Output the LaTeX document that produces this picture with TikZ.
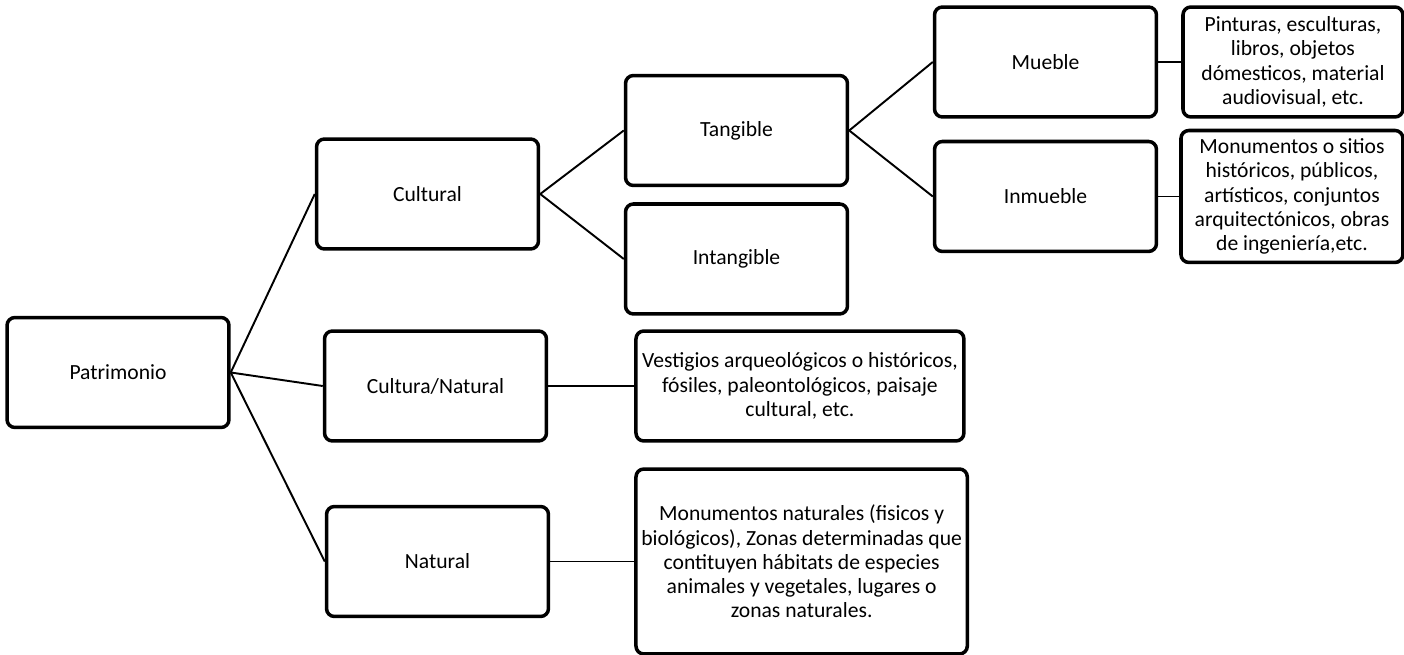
\documentclass[tikz,border=0pt]{standalone}
\usepackage{fontspec}
\setmainfont{Carlito}
\usepackage{tikz}
\usetikzlibrary{positioning}

\begin{document}
\begin{tikzpicture}[
  x = 0.02cm, y = -0.02cm,
  node distance = 0.5cm and 0.45cm,
  box/.style  = {rectangle, draw, rounded corners=4.5pt, line width=2pt,
                 align=center, inner sep=3pt,
                 minimum width=4.44cm, minimum height=2.2cm,
                 font=\fontsize{12.3}{13.8}\selectfont},
  desc/.style = {box, minimum width=6.56cm},
  link/.style = {line width=1.1pt}
]
\useasboundingbox (0,0) rectangle (1404,655);

% root
\node[box] (patr) at (118,372.5) {Patrimonio};

% first level
\node[box] (cult)   at (427.5,194)   {Cultural};
\node[box] (culnat) at (435.5,386)   {Cultura/Natural};
\node[box] (nat)    at (437.5,561.5) {Natural};

% cultural branch
\node[box] (tang) at (736.5,130.5) {Tangible};
\node[box, below=0.3cm of tang] (intang) {Intangible};

\node[box] (mueb) at (1045.5,62) {Mueble};
\node[box, below=0.42cm of mueb] (inmueb) {Inmueble};

% descriptions
\node[box, minimum width=4.4cm, right=0.46cm of mueb] (muebdesc)
  {Pinturas, esculturas,\\libros, objetos\\dómesticos, material\\audiovisual, etc.};
\node[box, minimum height=2.64cm, right=0.42cm of inmueb] (inmuebdesc)
  {Monumentos o sitios\\históricos, públicos,\\artísticos, conjuntos\\arquitectónicos, obras\\de ingeniería,etc.};
\node[desc, right=1.72cm of culnat] (culnatdesc)
  {Vestigios arqueológicos o históricos,\\fósiles, paleontológicos, paisaje\\cultural, etc.};
\node[desc, minimum width=6.58cm, minimum height=3.7cm, right=1.68cm of nat] (natdesc)
  {Monumentos naturales (fisicos y\\biológicos), Zonas determinadas que\\contituyen hábitats de especies\\animales y vegetales, lugares o\\zonas naturales.};

% connectors
\draw[link] (patr.east) -- (cult.west);
\draw[link] (patr.east) -- (culnat.west);
\draw[link] (patr.east) -- (nat.west);

\draw[link] (cult.east) -- (tang.west);
\draw[link] (cult.east) -- (intang.west);

\draw[link] (tang.east) -- (mueb.west);
\draw[link] (tang.east) -- (inmueb.west);

\draw[link] (mueb.east)   -- (muebdesc.west);
\draw[link] (inmueb.east) -- (inmuebdesc.west);
\draw[link] (culnat.east) -- (culnatdesc.west);
\draw[link] (nat.east)    -- (natdesc.west);
\end{tikzpicture}
\end{document}
